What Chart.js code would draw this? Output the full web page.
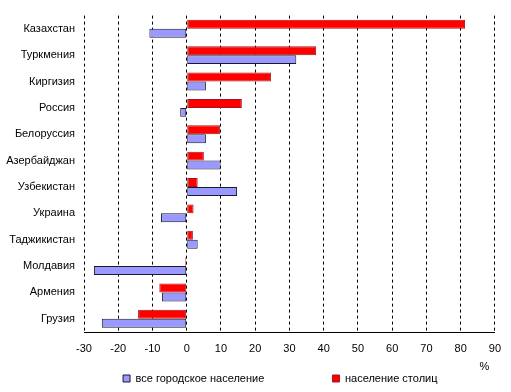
<!DOCTYPE html>
<html>
<head>
<meta charset="utf-8">
<script src="https://cdn.jsdelivr.net/npm/chart.js@4.4.1/dist/chart.umd.min.js"></script>
<style>
  html, body { margin: 0; padding: 0; background: #fff; }
  #wrap { width: 511px; height: 392px; }
</style>
</head>
<body>
<div id="wrap"><canvas id="c"></canvas></div>
<script>
const countries = ['Казахстан', 'Туркмения', 'Киргизия', 'Россия', 'Белоруссия', 'Азербайджан',
  'Узбекистан', 'Украина', 'Таджикистан', 'Молдавия', 'Армения', 'Грузия'];
const capitals = [81.3, 37.8, 24.6, 16.1, 9.7, 5.0, 3.2, 2.0, 1.8, -0.4, -8.0, -14.2];
const urban = [-10.9, 32.0, 5.6, -1.9, 5.6, 9.9, 14.7, -7.5, 3.2, -27.1, -7.2, -24.8];
const xTicks = [-30, -20, -10, 0, 10, 20, 30, 40, 50, 60, 70, 80, 90];

const font = { family: '"Liberation Sans", Arial, sans-serif', size: 11 };

// widen legend entries so they sit apart like in the original
const legendGap = ['                     ', '      '];

new Chart(document.getElementById('c'), {
  type: 'bar',
  data: {
    labels: countries,
    datasets: [{
      label: 'население столиц',
      data: capitals,
      backgroundColor: '#ff0000',
      borderColor: '#a01818',
      borderWidth: 1,
      borderSkipped: false
    }, {
      label: 'все городское население',
      data: urban,
      backgroundColor: '#9999ff',
      borderColor: '#1a1a2e',
      borderWidth: 1,
      borderSkipped: false
    }]
  },
  options: {
    indexAxis: 'y',
    responsive: true,
    maintainAspectRatio: false,
    animation: false,
    datasets: {
      bar: { categoryPercentage: 0.68, barPercentage: 1 }
    },
    layout: { padding: { top: 15, right: 11, bottom: -2, left: 0 } },
    scales: {
      x: {
        min: -30,
        max: 90,
        afterBuildTicks: s => { s.ticks = xTicks.map(v => ({ value: v })); },
        afterFit: s => { s.height = 37; },
        ticks: { color: '#000', font: font, padding: 10, maxRotation: 0 },
        grid: { color: '#000', lineWidth: 1, drawTicks: false },
        border: { display: true, color: '#000', width: 1, dash: [3, 3] },
        title: {
          display: true,
          text: '%\u2002',
          align: 'end',
          color: '#000',
          font: font,
          padding: { top: 0, bottom: -5 }
        }
      },
      y: {
        afterFit: s => { s.width = 84; },
        ticks: { color: '#000', font: font, padding: 9 },
        grid: { display: false, drawTicks: false },
        border: { display: false }
      }
    },
    plugins: {
      tooltip: { enabled: false },
      legend: {
        position: 'bottom',
        fullSize: false,
        reverse: true,
        labels: {
          color: '#000',
          font: font,
          boxWidth: 7,
          boxHeight: 7,
          padding: 4,
          generateLabels: chart => {
            const items = Chart.defaults.plugins.legend.labels.generateLabels(chart);
            items.forEach(it => {
              it.lineWidth = 1;
              it.text += legendGap[it.datasetIndex === 1 ? 0 : 1];
            });
            return items;
          }
        }
      }
    }
  }
});
</script>
</body>
</html>
